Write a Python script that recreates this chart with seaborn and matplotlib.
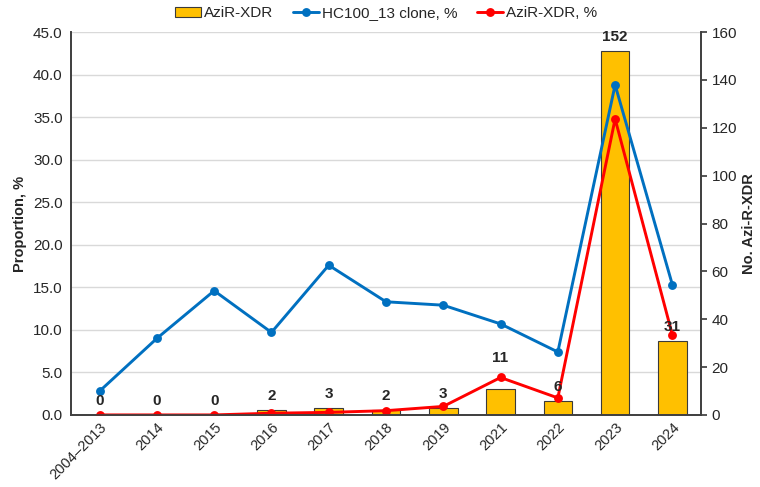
import matplotlib
matplotlib.use('Agg')
import matplotlib.pyplot as plt
import seaborn as sns
import numpy as np

# data
years = ['2004–2013', '2014', '2015', '2016', '2017', '2018', '2019', '2021', '2022', '2023', '2024']
n_azir_xdr = [0, 0, 0, 2, 3, 2, 3, 11, 6, 152, 31]
hc100_13_pct = [2.8, 9.0, 14.6, 9.7, 17.6, 13.3, 12.9, 10.7, 7.4, 38.8, 15.3]
azir_xdr_pct = [0.0, 0.0, 0.0, 0.2, 0.3, 0.5, 1.0, 4.4, 2.0, 34.8, 9.4]

sns.set_theme(style='white')
plt.rcParams['font.family'] = ['Liberation Sans', 'DejaVu Sans']

fig = plt.figure(figsize=(7.6, 4.87), dpi=100)
ax = fig.add_axes([0.0934, 0.148, 0.829, 0.786])  # left axis: proportions
ax2 = ax.twinx()  # right axis: counts
ax.set_zorder(ax2.get_zorder() + 1)
ax.patch.set_visible(False)

# bars (counts)
sns.barplot(x=years, y=n_azir_xdr, ax=ax2, color='#FFC000', edgecolor='#3a3a3a',
            linewidth=0.8, width=0.5, saturation=1, label='AziR-XDR')
ax2.set_ylim(0, 160)
ax2.set_yticks(np.arange(0, 161, 20))
for y in np.arange(5, 46, 5):  # gridlines of the left axis, behind bars
    ax2.axhline(y * 160 / 45, color='#d9d9d9', lw=1, zorder=0)

# lines (percent)
sns.pointplot(x=years, y=hc100_13_pct, ax=ax, color='#0070C0', markersize=4.8,
              linewidth=2.1, errorbar=None, label='HC100_13 clone, %')
sns.pointplot(x=years, y=azir_xdr_pct, ax=ax, color='#FF0000', markersize=4.8,
              linewidth=2.1, errorbar=None, label='AziR-XDR, %')
ax.set_ylim(0, 45)
ax.set_yticks(np.arange(0, 46, 5))
ax.set_yticklabels([f'{v:.1f}' for v in np.arange(0, 46, 5)])
ax.set_xlim(-0.5, len(years) - 0.5)

# count labels, drawn on top of the lines
for i, c in enumerate(n_azir_xdr):
    pad = 17 if c == 11 else 5
    ax.annotate(str(c), xy=(i, c), xycoords=ax2.transData, xytext=(0, pad),
                textcoords='offset points', ha='center', va='bottom',
                fontsize=11, fontweight='bold')

ax.set_ylabel('Proportion, %', fontsize=10.5, fontweight='bold')
ax2.set_ylabel('No. Azi-R-XDR', fontsize=10.5, fontweight='bold', labelpad=4)
ax.set_xlabel('')

for a in (ax, ax2):
    for s in a.spines.values():
        s.set_color('#404040')
    a.spines['top'].set_visible(False)
ax.tick_params(axis='y', labelsize=11, length=0, pad=6)
ax.tick_params(axis='x', labelsize=10.5, length=0)
ax2.tick_params(axis='y', labelsize=11, length=4, direction='out', color='#404040', right=True)
plt.setp(ax.get_xticklabels(), rotation=45, ha='right', rotation_mode='anchor')
ax.grid(False)
ax2.grid(False)

h1, l1 = ax2.get_legend_handles_labels()
h2, l2 = ax.get_legend_handles_labels()
leg = ax.legend(h1 + h2, l1 + l2, loc='lower center', bbox_to_anchor=(0.5, 1.015),
                ncol=3, frameon=False, fontsize=11, handlelength=1.7,
                handletextpad=0.2, columnspacing=1.3, borderaxespad=0.0)
if ax2.get_legend():
    ax2.get_legend().remove()

fig.savefig('out.png', dpi=100)
